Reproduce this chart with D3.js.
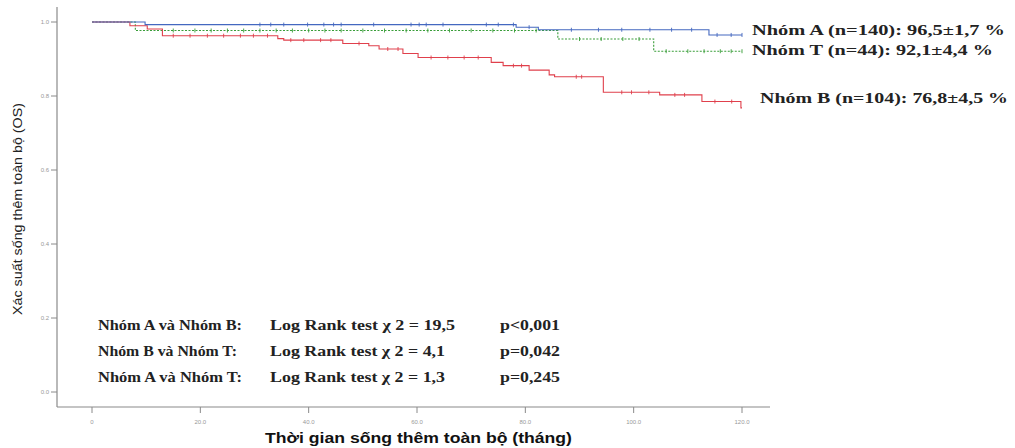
<!DOCTYPE html>
<html>
<head>
<meta charset="utf-8">
<script src="https://cdn.jsdelivr.net/npm/d3@7"></script>
<style>
  body { margin: 0; background: #fff; }
  svg { display: block; }
</style>
</head>
<body>
<div id="chart"></div>
<script>
// Kaplan-Meier steps (months, survival)
var timeA = [0, 9.8, 78.3, 82.4, 113.9, 120];
var survA = [1, 0.993, 0.986, 0.979, 0.965, 0.965];
var censA = [31, 33, 35.4, 39.8, 42.8, 44.6, 46, 52, 58.9, 60.4, 61.7, 64.8, 72.8, 75, 77.8, 80.7, 88.5, 93.5, 97.8, 103, 107, 110.7, 115.4, 118, 120];

var timeT = [0, 8, 86, 103.7, 120];
var survT = [1, 0.977, 0.954, 0.921, 0.921];
var censT = [15, 19, 22, 25, 28, 31, 34, 37, 40, 43, 46, 50, 54, 58, 62, 66, 70, 74, 78, 82, 90, 94, 98, 101, 106, 110, 113, 116, 118, 120];

var timeB = [0, 7, 10.2, 13, 34.3, 35.4, 46.3, 51.1, 53, 57.4, 60.2, 73.7, 75.9, 80.7, 84.4, 85.4, 94.4, 104.8, 112.6, 119.8, 120];
var survB = [1, 0.990, 0.981, 0.963, 0.955, 0.951, 0.942, 0.936, 0.927, 0.915, 0.904, 0.891, 0.882, 0.870, 0.857, 0.852, 0.810, 0.803, 0.785, 0.768, 0.768];
var censB = [15, 18.1, 21.3, 24.3, 27.4, 29.8, 32.4, 36.7, 39.1, 42.2, 44.1, 49.3, 54.6, 56.5, 62.6, 65.7, 68.7, 71.3, 77.8, 79.3, 89.4, 90.4, 97.8, 99.6, 102.8, 107.6, 109.4, 115, 118.1];

var xTicks = [0, 20, 40, 60, 80, 100, 120];
var xTickLabels = ["0", "20.0", "40.0", "60.0", "80.0", "100.0", "120.0"];
var yTicks = [0, 0.2, 0.4, 0.6, 0.8, 1.0];
var yTickLabels = ["0.0", "0.2", "0.4", "0.6", "0.8", "1.0"];

var legendLabels = ["Nhóm A (n=140): 96,5±1,7 %", "Nhóm T (n=44): 92,1±4,4 %", "Nhóm B (n=104): 76,8±4,5 %"];
var testPairs = ["Nhóm A và Nhóm B:", "Nhóm B và Nhóm T:", "Nhóm A và Nhóm T:"];
var testStats = ["Log Rank test χ 2 = 19,5", "Log Rank test χ 2 = 4,1", "Log Rank test χ 2 = 1,3"];
var testP = ["p<0,001", "p=0,042", "p=0,245"];

var width = 1015, height = 448;

var svg = d3.select("#chart").append("svg")
    .attr("width", width)
    .attr("height", height);

var x = d3.scaleLinear().domain([0, 120]).range([92, 742]);
var y = d3.scaleLinear().domain([0, 1]).range([392, 22]);

var axisColor = "#8a8a8a";
var sans = "Arial, 'Liberation Sans', sans-serif";
var serif = "'Times New Roman', 'Liberation Serif', serif";

// axes lines
svg.append("line")
    .attr("x1", 57).attr("x2", 57).attr("y1", 7).attr("y2", 407)
    .style("stroke", axisColor).style("stroke-width", 1.2);
svg.append("line")
    .attr("x1", 57).attr("x2", 770).attr("y1", 407).attr("y2", 407)
    .style("stroke", axisColor).style("stroke-width", 1.2);

// y ticks
var yAxis = svg.append("g");
yTicks.forEach(function(t, i) {
    yAxis.append("line")
        .attr("x1", 51).attr("x2", 57).attr("y1", y(t)).attr("y2", y(t))
        .style("stroke", axisColor);
    yAxis.append("text")
        .attr("x", 49).attr("y", y(t) + 2)
        .attr("text-anchor", "end")
        .style("font-family", sans)
        .style("font-size", "6px")
        .style("fill", "#999")
        .text(yTickLabels[i]);
});

// x ticks
var xAxis = svg.append("g");
xTicks.forEach(function(t, i) {
    xAxis.append("line")
        .attr("x1", x(t)).attr("x2", x(t)).attr("y1", 407).attr("y2", 413)
        .style("stroke", axisColor);
    xAxis.append("text")
        .attr("x", x(t)).attr("y", 424)
        .attr("text-anchor", "middle")
        .style("font-family", sans)
        .style("font-size", "6px")
        .style("fill", "#999")
        .text(xTickLabels[i]);
});

// axis titles
svg.append("text")
    .attr("transform", "translate(22,209) rotate(-90)")
    .attr("text-anchor", "middle")
    .attr("textLength", 212)
    .attr("lengthAdjust", "spacingAndGlyphs")
    .style("font-family", sans)
    .style("font-size", "13px")
    .style("fill", "#222")
    .text("Xác suất sống thêm toàn bộ (OS)");

svg.append("text")
    .attr("x", 265).attr("y", 443)
    .attr("textLength", 307)
    .attr("lengthAdjust", "spacingAndGlyphs")
    .style("font-family", sans)
    .style("font-size", "14px")
    .style("font-weight", "bold")
    .style("fill", "#111")
    .text("Thời gian sống thêm toàn bộ (tháng)");

// survival curves
function stepValue(times, surv, t) {
    var idx = d3.bisectRight(times, t) - 1;
    return surv[Math.max(0, idx)];
}

var line = d3.line()
    .x(function(d) { return x(d[0]); })
    .y(function(d) { return y(d[1]); })
    .curve(d3.curveStepAfter);

var groups = [
    { times: timeT, surv: survT, cens: censT, color: "#3a9e3a", dash: "2,1.5" },
    { times: timeB, surv: survB, cens: censB, color: "#e0404c", dash: null },
    { times: timeA, surv: survA, cens: censA, color: "#4468c0", dash: null }
];

groups.forEach(function(g) {
    var pts = g.times.map(function(t, i) { return [t, g.surv[i]]; });
    svg.append("path")
        .datum(pts)
        .attr("d", line)
        .style("fill", "none")
        .style("stroke", g.color)
        .style("stroke-width", 1.1)
        .style("stroke-dasharray", g.dash);

    svg.selectAll(null)
        .data(g.cens)
      .enter().append("line")
        .attr("x1", function(d) { return x(d); })
        .attr("x2", function(d) { return x(d); })
        .attr("y1", function(d) { return y(stepValue(g.times, g.surv, d)) - 2; })
        .attr("y2", function(d) { return y(stepValue(g.times, g.surv, d)) + 2; })
        .style("stroke", g.color)
        .style("stroke-width", 0.9);
});

// legend labels at curve ends
var legendPos = [[752, 35], [752, 55], [760, 103]];
var legendLen = [253, 241, 248];
legendLabels.forEach(function(s, i) {
    svg.append("text")
        .attr("x", legendPos[i][0]).attr("y", legendPos[i][1])
        .attr("textLength", legendLen[i])
        .attr("lengthAdjust", "spacingAndGlyphs")
        .style("font-family", serif)
        .style("font-size", "15px")
        .style("font-weight", "bold")
        .style("fill", "#222")
        .text(s);
});

// log rank tests
var rowY = [330, 356, 382];
var pairLen = [144, 139, 144];
var statLen = [185, 175, 175];
testPairs.forEach(function(s, i) {
    var row = svg.append("g")
        .style("font-family", serif)
        .style("font-size", "15px")
        .style("font-weight", "bold")
        .style("fill", "#222");
    row.append("text").attr("x", 98).attr("y", rowY[i])
        .attr("textLength", pairLen[i]).attr("lengthAdjust", "spacingAndGlyphs")
        .text(s);
    row.append("text").attr("x", 270).attr("y", rowY[i])
        .attr("textLength", statLen[i]).attr("lengthAdjust", "spacingAndGlyphs")
        .text(testStats[i]);
    row.append("text").attr("x", 500).attr("y", rowY[i])
        .attr("textLength", 60).attr("lengthAdjust", "spacingAndGlyphs")
        .text(testP[i]);
});
</script>
</body>
</html>
